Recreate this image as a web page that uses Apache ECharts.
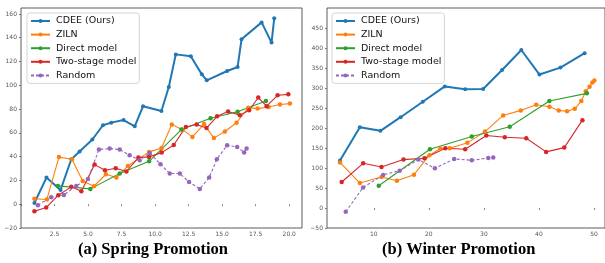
<!DOCTYPE html>
<html>
<head>
<meta charset="utf-8">
<script src="https://cdn.jsdelivr.net/npm/echarts@6/dist/echarts.min.js"></script>
<style>
  html, body { margin: 0; padding: 0; background: #fff; }
  #main { width: 605px; height: 263px; }
</style>
</head>
<body>
<div id="main"></div>
<script>
// (a) spring promotion, [x, y]
var springCdee = [[1.0, 1], [1.9, 22.4], [2.95, 12], [3.75, 37.8], [4.37, 44.3], [5.32, 54.4], [6.11, 66.4], [6.73, 68.6], [7.65, 70.8], [8.48, 65.5], [9.1, 82.4], [10.47, 78.4], [11.02, 98.6], [11.54, 126], [12.66, 124.4], [13.48, 109.2], [13.85, 104.2], [15.37, 112], [16.15, 115.4], [16.44, 138.7], [17.94, 152.9], [18.68, 135.9], [18.88, 156.3]];
var springZiln = [[1.0, 4.6], [1.93, 4], [2.83, 39.6], [3.8, 37.8], [4.6, 19.5], [5.44, 15.1], [6.33, 25.2], [7.11, 22.4], [7.97, 32.2], [9.55, 44], [10.47, 47], [11.24, 67], [12.04, 62.7], [12.78, 56.6], [13.65, 67.4], [14.38, 55.6], [15.2, 61.2], [16.07, 68.5], [16.94, 81.2], [17.64, 80.4], [18.46, 81.8], [19.31, 83.8], [20.05, 84.6]];
var springDirect = [[2.75, 15.4], [5.17, 12.9], [7.36, 25.8], [9.55, 36.1], [11.96, 62.8], [14.13, 72.3], [16.15, 77.8], [18.26, 86.8]];
var springTwoStage = [[1.0, -5.9], [1.88, -2.8], [2.78, 7.6], [3.75, 14.6], [4.5, 10.9], [5.49, 33.3], [6.26, 28.6], [7.06, 30.3], [7.86, 27.5], [8.75, 39.2], [9.55, 39.8], [10.49, 43.4], [11.39, 49.8], [12.29, 65], [13.1, 67], [13.83, 64], [14.62, 73.9], [15.44, 77.9], [16.32, 74.8], [17.01, 79], [17.69, 89.7], [18.31, 82.4], [19.13, 91.6], [19.93, 92.4]];
var springRandom = [[1.26, -0.8], [2.25, 5.9], [3.2, 7.8], [4.12, 15.4], [4.99, 21.3], [5.81, 46], [6.61, 46.8], [7.36, 46], [8.1, 41.2], [8.85, 37], [9.6, 43.1], [10.4, 33.6], [11.09, 25.8], [11.84, 25.8], [12.53, 18.7], [13.33, 12.9], [14.03, 22.4], [14.6, 37.8], [15.37, 49.6], [16.12, 48.2], [16.64, 43.4], [16.82, 46.8]];

// (b) winter promotion, [x, y]
var winterCdee = [[3.86, 119], [7.47, 202], [11.2, 193], [14.87, 227], [18.9, 265.7], [22.9, 304], [26.6, 296.7], [29.86, 297.5], [33.3, 345], [36.8, 395], [40.1, 333.6], [43.9, 351], [48.3, 387]];
var winterZiln = [[3.86, 114], [7.47, 62.4], [11.4, 77.5], [14.2, 68.3], [17.3, 83.3], [20.1, 131.8], [22.1, 148.6], [23.8, 149.4], [27, 162.9], [30.2, 191], [33.5, 231.4], [36.7, 244], [39.5, 258], [41.9, 253], [43.6, 244], [45.1, 242], [46.5, 248], [47.7, 267.3], [48.5, 291.7], [49.2, 303.4], [49.7, 313.5], [50.07, 319]];
var winterDirect = [[10.9, 55.7], [20.2, 146.8], [27.8, 178.7], [34.7, 203], [41.9, 267.3], [48.7, 286.6]];
var winterTwoStage = [[4.17, 65], [8.07, 111.7], [11.4, 102.7], [15.4, 121], [19.2, 124.3], [23.0, 149.4], [26.6, 146.8], [30.45, 181.2], [33.8, 177], [37.7, 174.5], [41.3, 140.3], [44.6, 151], [47.9, 219.6]];
var winterRandom = [[4.9, -9.5], [8.07, 51.5], [11.7, 82.6], [14.7, 93.4], [18.1, 121], [21.1, 99.2], [24.6, 122.7], [27.8, 119.2], [30.8, 125.2], [31.7, 126]];

var seriesNames = ["CDEE (Ours)", "ZILN", "Direct model", "Two-stage model", "Random"];
var seriesColors = ["#1f77b4", "#ff7f0e", "#2ca02c", "#d62728", "#9467bd"];
var springTitle = "(a) Spring Promotion";
var winterTitle = "(b) Winter Promotion";

var myChart = echarts.init(document.getElementById("main"));

function minusLabel(v) {
  return v < 0 ? "\u2212" + Math.abs(v) : String(v);
}

var tickFont = { fontFamily: "DejaVu Sans", fontSize: 6, color: "#555" };

function makeSeries(idx, grid, data) {
  var s = {
    name: seriesNames[idx],
    type: "line",
    xAxisIndex: grid,
    yAxisIndex: grid,
    data: data,
    symbol: "circle",
    symbolSize: idx === 0 ? 4 : 4.5,
    showAllSymbol: true,
    animation: false,
    itemStyle: { color: seriesColors[idx] },
    lineStyle: { color: seriesColors[idx], width: idx === 0 ? 2 : 1.1 }
  };
  if (idx === 4) {
    s.lineStyle.type = [3, 2];
  }
  return s;
}

function makeLegend(left) {
  return {
    orient: "vertical",
    left: left,
    top: 13,
    padding: [3, 3, 3, 3],
    itemWidth: 19,
    itemHeight: 5,
    itemGap: 3.6,
    borderColor: "#d5d5d5",
    borderWidth: 1,
    borderRadius: 3,
    backgroundColor: "#fff",
    data: seriesNames,
    textStyle: { fontFamily: "DejaVu Sans", fontSize: 9.5, color: "#111", lineHeight: 10, padding: [0, 0, 0, 1] }
  };
}

myChart.setOption({
  animation: false,
  backgroundColor: "#fff",
  title: [
    { text: springTitle, left: 78, top: 241, padding: 0,
      textStyle: { fontFamily: "Liberation Serif", fontWeight: "bold", fontSize: 16.5, color: "#000" } },
    { text: winterTitle, left: 382, top: 241, padding: 0,
      textStyle: { fontFamily: "Liberation Serif", fontWeight: "bold", fontSize: 16.5, color: "#000" } }
  ],
  legend: [makeLegend(27), makeLegend(332)],
  grid: [
    { left: 21, right: 303, top: 8, bottom: 35, show: true, borderColor: "#333", borderWidth: 0.8 },
    { left: 327, right: -2, top: 8, bottom: 35, show: true, borderColor: "#333", borderWidth: 0.8 }
  ],
  xAxis: [
    {
      type: "value", gridIndex: 0, min: 0, max: 20.95, interval: 2.5,
      axisLine: { show: false },
      axisTick: { length: 2, lineStyle: { color: "#333", width: 0.6 } },
      splitLine: { show: false },
      axisLabel: Object.assign({ margin: 3, showMaxLabel: false,
        formatter: function (v) { return v > 0 && Math.abs(v / 2.5 - Math.round(v / 2.5)) < 1e-6 ? v.toFixed(1) : ""; } }, tickFont)
    },
    {
      type: "value", gridIndex: 1, min: 1.5, max: 52, splitNumber: 5,
      axisLine: { show: false },
      axisTick: { length: 2, lineStyle: { color: "#333", width: 0.6 } },
      splitLine: { show: false },
      axisLabel: Object.assign({ margin: 3, showMinLabel: false, showMaxLabel: false,
        formatter: function (v) { return v % 10 === 0 ? String(v) : ""; } }, tickFont)
    }
  ],
  yAxis: [
    {
      type: "value", gridIndex: 0, min: -20, max: 165, interval: 20,
      axisLine: { show: false },
      axisTick: { show: true, length: 2, lineStyle: { color: "#333", width: 0.6 } },
      splitLine: { show: false },
      axisLabel: Object.assign({ margin: 4, showMaxLabel: false, formatter: minusLabel }, tickFont)
    },
    {
      type: "value", gridIndex: 1, min: -50, max: 500, interval: 50,
      axisLine: { show: false },
      axisTick: { show: true, length: 2, lineStyle: { color: "#333", width: 0.6 } },
      splitLine: { show: false },
      axisLabel: Object.assign({ margin: 4, showMaxLabel: false, formatter: minusLabel }, tickFont)
    }
  ],
  series: [
    makeSeries(0, 0, springCdee),
    makeSeries(1, 0, springZiln),
    makeSeries(2, 0, springDirect),
    makeSeries(3, 0, springTwoStage),
    makeSeries(4, 0, springRandom),
    makeSeries(0, 1, winterCdee),
    makeSeries(1, 1, winterZiln),
    makeSeries(2, 1, winterDirect),
    makeSeries(3, 1, winterTwoStage),
    makeSeries(4, 1, winterRandom)
  ]
});
</script>
</body>
</html>
